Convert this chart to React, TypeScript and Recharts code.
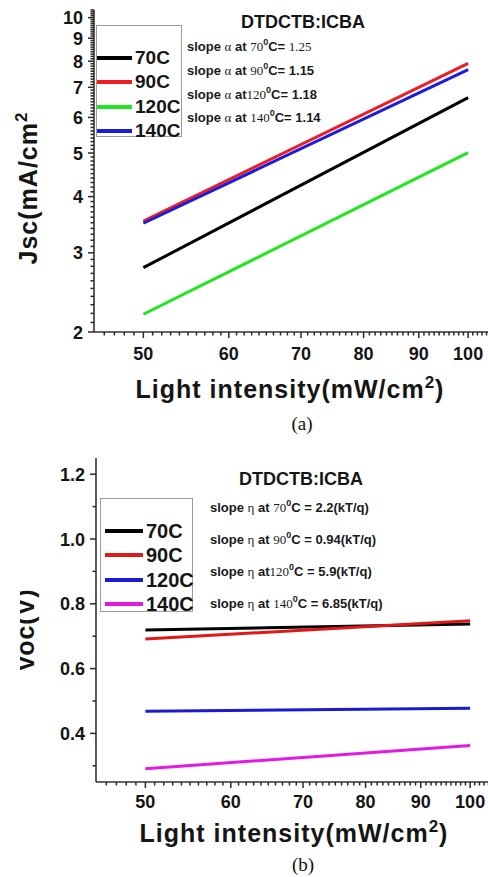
import React from "react";
import { LineChart, Line, XAxis, YAxis, Legend } from "recharts";

const SANS = "'Liberation Sans', Arial, Helvetica, sans-serif";
const SERIF = "'Liberation Serif', 'Times New Roman', serif";
const AXIS = "#333333";

// light intensity (mW/cm2) at the two ends of each fitted line
const intensity = [50, 100];

// (a) Jsc (mA/cm2)
const jsc70 = [2.78, 6.64];
const jsc90 = [3.53, 7.91];
const jsc120 = [2.19, 5.01];
const jsc140 = [3.49, 7.66];

// (b) Voc (V)
const voc70 = [0.719, 0.738];
const voc90 = [0.691, 0.748];
const voc120 = [0.468, 0.478];
const voc140 = [0.291, 0.363];

const seriesNames = ["70C", "90C", "120C", "140C"];
const jscColors = ["#000000", "#ee1c24", "#22e622", "#1c1cdc"];
const vocColors = ["#000000", "#e01818", "#1a1ad4", "#e41ae4"];

const slopeTemps = ["70", "90", "120", "140"];
const jscSlopes = ["1.25", "1.15", "1.18", "1.14"];
const vocSlopes = ["2.2", "0.94", "5.9", "6.85"];

const xTicks = [50, 60, 70, 80, 90, 100];
const jscTicks = [2, 3, 4, 5, 6, 7, 8, 9, 10];
const vocTicks = [0.4, 0.6, 0.8, 1.0, 1.2];

// minor tick positions
function steps(from: number, to: number, step: number) {
  const out: number[] = [];
  for (let v = from; v <= to + 1e-9; v += step) out.push(Math.round(v * 100) / 100);
  return out;
}
const xAllTicks = steps(46, 104, 1);
const jscAllTicks = steps(2, 10.4, 0.1);
const vocAllTicks = steps(0.3, 1.2, 0.1);

const jscData = intensity.map((x, i) => ({
  x,
  s0: jsc70[i],
  s1: jsc90[i],
  s2: jsc120[i],
  s3: jsc140[i],
}));
const vocData = intensity.map((x, i) => ({
  x,
  s0: voc70[i],
  s1: voc90[i],
  s2: voc120[i],
  s3: voc140[i],
}));

const isMajor = (majors: number[], v: number) => majors.some((m) => Math.abs(m - v) < 1e-6);

function makeYTick(majors: number[], fmt: (v: number) => string) {
  return (props: any) => {
    const { x, y, payload } = props;
    const major = isMajor(majors, payload.value);
    return (
      <g>
        <path d={`M${x},${y}H${x - (major ? 6 : 3.5)}`} stroke="#2a2a2a" strokeWidth={1.5} fill="none" />
        {major && (
          <text x={x - 11} y={y + 6.5} textAnchor="end" fontFamily={SANS} fontWeight="bold" fontSize={18} fill="#151515">
            {fmt(payload.value)}
          </text>
        )}
      </g>
    );
  };
}

function makeXTick(labelDy: number) {
  return (props: any) => {
    const { x, y, payload } = props;
    const major = isMajor(xTicks, payload.value);
    return (
      <g>
        <path d={`M${x},${y}V${y + (major ? 6 : 3.5)}`} stroke="#2a2a2a" strokeWidth={1.5} fill="none" />
        {major && (
          <text x={x} y={y + labelDy} textAnchor="middle" fontFamily={SANS} fontWeight="bold" fontSize={18} fill="#151515">
            {payload.value}
          </text>
        )}
      </g>
    );
  };
}

function makeLegend(w: number, h: number, lineX: number, lineW: number, fontSize: number) {
  return (props: any) => {
    const items = [...(props.payload || [])].sort(
      (a: any, b: any) => seriesNames.indexOf(a.value) - seriesNames.indexOf(b.value)
    );
    return (
      <div
        style={{
          width: w,
          height: h,
          border: "1px solid #9c9c9c",
          boxSizing: "border-box",
          position: "relative",
          background: "#fff",
        }}
      >
        {items.map((it: any, i: number) => (
          <div
            key={i}
            style={{
              position: "absolute",
              left: lineX,
              top: 32 + i * 24.3 - 12,
              height: 24,
              display: "flex",
              alignItems: "center",
            }}
          >
            <div style={{ width: lineW, height: 4, background: it.color }} />
            <span
              style={{
                fontFamily: SANS,
                fontWeight: 700,
                fontSize,
                marginLeft: 3,
                color: "#151515",
                lineHeight: "24px",
              }}
            >
              {it.value}
            </span>
          </div>
        ))}
      </div>
    );
  };
}

function SlopeLine({ x, y, sym, temp, value, serifValue, eqSpace }: any) {
  const sep = temp === "120" ? "" : " ";
  return (
    <text x={x} y={y} fontSize={13} fill="#1a1a1a">
      <tspan fontFamily={SANS} fontWeight="bold">slope </tspan>
      <tspan fontFamily={SERIF}>{sym}</tspan>
      <tspan fontFamily={SANS} fontWeight="bold">{" at" + sep}</tspan>
      <tspan fontFamily={SERIF}>{temp}</tspan>
      <tspan fontFamily={SANS} fontWeight="bold" fontSize={9} dy={-6}>0</tspan>
      <tspan fontFamily={SANS} fontWeight="bold" dy={6}>{eqSpace ? "C = " : "C=  "}</tspan>
      <tspan fontFamily={serifValue ? SERIF : SANS} fontWeight={serifValue ? "normal" : "bold"}>{value}</tspan>
    </text>
  );
}

const frameAxis = { stroke: AXIS, strokeWidth: 1.6 };

export default function App() {
  return (
    <div
      style={{
        position: "absolute",
        left: 0,
        top: 0,
        width: 488,
        height: 877,
        overflow: "hidden",
        background: "#fff",
      }}
    >
      {/* (a) Jsc vs light intensity */}
      <div style={{ position: "absolute", left: 0, top: 0 }}>
        <LineChart width={500} height={440} data={jscData} margin={{ top: 10, right: 9, bottom: 48, left: 0 }}>
          <XAxis
            dataKey="x"
            type="number"
            scale="log"
            domain={[45, 105]}
            allowDataOverflow
            ticks={xAllTicks}
            interval={0}
            height={60}
            tickSize={0}
            tickMargin={0}
            tickLine={false}
            axisLine={frameAxis}
            tick={makeXTick(28)}
          />
          <XAxis
            xAxisId="top"
            orientation="top"
            dataKey="x"
            type="number"
            scale="log"
            domain={[45, 105]}
            allowDataOverflow
            height={0}
            tick={false}
            tickLine={false}
            axisLine={frameAxis}
          />
          <YAxis
            type="number"
            scale="log"
            domain={[2, 10.4]}
            allowDataOverflow
            ticks={jscAllTicks}
            interval={0}
            width={94}
            tickSize={0}
            tickMargin={0}
            tickLine={false}
            axisLine={frameAxis}
            tick={makeYTick(jscTicks, (v) => String(v))}
          />
          <Legend
            layout="vertical"
            align="center"
            verticalAlign="middle"
            content={makeLegend(86, 112, 0, 35, 19)}
            wrapperStyle={{ left: 96, top: 25, width: 86, height: 112 }}
          />
          {seriesNames.map((n, i) => (
            <Line
              key={n}
              name={n}
              dataKey={"s" + i}
              stroke={jscColors[i]}
              strokeWidth={3}
              dot={false}
              isAnimationActive={false}
            />
          ))}
        </LineChart>
      </div>

      {/* (b) Voc vs light intensity */}
      <div style={{ position: "absolute", left: 0, top: 440 }}>
        <LineChart width={502} height={437} data={vocData} margin={{ top: 18, right: 9, bottom: 35, left: 0 }}>
          <XAxis
            dataKey="x"
            type="number"
            scale="log"
            domain={[45, 105]}
            allowDataOverflow
            ticks={xAllTicks}
            interval={0}
            height={60}
            tickSize={0}
            tickMargin={0}
            tickLine={false}
            axisLine={frameAxis}
            tick={makeXTick(26)}
          />
          <XAxis
            xAxisId="top"
            orientation="top"
            dataKey="x"
            type="number"
            scale="log"
            domain={[45, 105]}
            allowDataOverflow
            height={0}
            tick={false}
            tickLine={false}
            axisLine={frameAxis}
          />
          <YAxis
            type="number"
            domain={[0.25, 1.25]}
            allowDataOverflow
            ticks={vocAllTicks}
            interval={0}
            width={96}
            tickSize={0}
            tickMargin={0}
            tickLine={false}
            axisLine={frameAxis}
            tick={makeYTick(vocTicks, (v) => v.toFixed(1))}
          />
          <Legend
            layout="vertical"
            align="center"
            verticalAlign="middle"
            content={makeLegend(93, 114, 4, 38, 20)}
            wrapperStyle={{ left: 100, top: 58, width: 93, height: 114 }}
          />
          {seriesNames.map((n, i) => (
            <Line
              key={n}
              name={n}
              dataKey={"s" + i}
              stroke={vocColors[i]}
              strokeWidth={3}
              dot={false}
              isAnimationActive={false}
            />
          ))}
        </LineChart>
      </div>

      {/* titles, annotations, axis labels */}
      <svg
        width={488}
        height={877}
        style={{ position: "absolute", left: 0, top: 0, pointerEvents: "none" }}
      >
        <defs>
          <clipPath id="vocClip">
            <rect x={20} y={560} width={40} height={160} />
          </clipPath>
        </defs>

        <text x={303} y={28} textAnchor="middle" fontFamily={SANS} fontWeight="bold" fontSize={18} fill="#151515">
          DTDCTB:ICBA
        </text>
        {jscSlopes.map((s, i) => (
          <SlopeLine key={i} x={187} y={51 + i * 23.8} sym="α" temp={slopeTemps[i]} value={s} serifValue={i === 0} eqSpace={false} />
        ))}

        <text
          transform="rotate(-90, 37, 188)"
          x={37}
          y={188}
          textAnchor="middle"
          fontFamily={SANS}
          fontWeight="bold"
          fontSize={25}
          letterSpacing={1}
          fill="#151515"
        >
          <tspan>J</tspan>
          <tspan>sc</tspan>
          <tspan>(mA/cm</tspan>
          <tspan fontSize={17} dy={-10}>2</tspan>
        </text>

        <text x={290} y={398} textAnchor="middle" fontFamily={SANS} fontWeight="bold" fontSize={25} letterSpacing={1} fill="#151515">
          <tspan>Light intensity(mW/cm</tspan>
          <tspan fontSize={17} dy={-10}>2</tspan>
          <tspan dy={10}>)</tspan>
        </text>
        <text x={302} y={430} textAnchor="middle" fontFamily={SERIF} fontSize={19} fill="#111">
          (a)
        </text>

        <text x={301} y={485} textAnchor="middle" fontFamily={SANS} fontWeight="bold" fontSize={18} fill="#151515">
          DTDCTB:ICBA
        </text>
        {vocSlopes.map((s, i) => (
          <SlopeLine key={i} x={210} y={512 + i * 32} sym="η" temp={slopeTemps[i]} value={s + "(kT/q)"} serifValue={false} eqSpace={true} />
        ))}

        <g clipPath="url(#vocClip)">
          <text
            transform="rotate(-90, 34, 630)"
            x={34}
            y={630}
            textAnchor="middle"
            fontFamily={SANS}
            fontWeight="bold"
            fontSize={25}
            letterSpacing={1}
            fill="#151515"
          >
            Voc(V)
          </text>
        </g>

        <text x={294} y={842} textAnchor="middle" fontFamily={SANS} fontWeight="bold" fontSize={25} letterSpacing={1} fill="#151515">
          <tspan>Light intensity(mW/cm</tspan>
          <tspan fontSize={17} dy={-10}>2</tspan>
          <tspan dy={10}>)</tspan>
        </text>
        <text x={303} y={871} textAnchor="middle" fontFamily={SERIF} fontSize={19} fill="#111">
          (b)
        </text>
      </svg>
    </div>
  );
}
